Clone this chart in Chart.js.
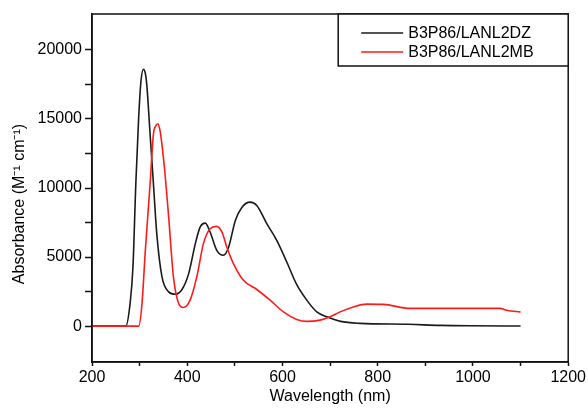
<!DOCTYPE html>
<html>
<head>
<meta charset="utf-8">
<script src="https://cdn.jsdelivr.net/npm/chart.js@4.4.1/dist/chart.umd.min.js"></script>
<style>
  html, body { margin: 0; padding: 0; background: #fff; }
  #wrap { width: 588px; height: 408px; }
</style>
</head>
<body>
<div id="wrap"><canvas id="spectrum"></canvas></div>
<script>
// spectra (wavelength in nm, absorbance in M-1 cm-1)
let names = ['B3P86/LANL2DZ', 'B3P86/LANL2MB']
let colors = ['#1a1a1a', '#ff1a1a']

let wlDZ = [200, 271, 280, 286, 292, 298, 303, 308, 312, 315, 322, 329, 336, 347, 361, 375, 389, 403, 417, 427, 438, 448, 462, 476, 487, 501, 515, 532, 546, 567, 588, 609, 630, 651, 672, 693, 722, 763, 865, 931, 1000, 1100]
let absDZ = [0, 0, 1640, 4280, 10300, 15100, 17800, 18600, 18300, 17500, 13900, 10300, 6700, 3560, 2480, 2310, 2650, 3800, 5970, 7170, 7460, 6810, 5490, 5130, 5730, 7650, 8610, 8980, 8740, 7420, 6210, 4640, 3000, 1880, 1030, 670, 340, 200, 130, 50, 20, 10]

let wlMB = [200, 298, 305, 312, 322, 329, 334, 338, 342, 345, 352, 361, 371, 382, 392, 406, 420, 434, 448, 461, 473, 483, 497, 518, 546, 574, 602, 630, 651, 679, 700, 721, 749, 777, 812, 868, 950, 1057, 1071, 1100]
let absMB = [0, 0, 1640, 5490, 10300, 13900, 14500, 14630, 14300, 13670, 11500, 7890, 3560, 1640, 1350, 1880, 3560, 5970, 7050, 7220, 6810, 5730, 4530, 3320, 2650, 1880, 1030, 480, 340, 430, 670, 1030, 1390, 1590, 1570, 1280, 1280, 1280, 1150, 1010]

// tick marks (all) and the ones that get a label
let xMarks = [200, 300, 400, 500, 600, 700, 800, 900, 1000, 1100, 1200]
let xTicks = [200, 400, 600, 800, 1000, 1200]
let yMarks = [0, 2500, 5000, 7500, 10000, 12500, 15000, 17500, 20000]
let yTicks = [0, 5000, 10000, 15000, 20000]

let xTitle = 'Wavelength (nm)'
let yTitle = 'Absorbance (M\u207B\u00B9 cm\u207B\u00B9)'

const font = '"Liberation Sans", Arial, Helvetica, sans-serif'

function pts(xs, ys) { // maakt {x,y} punten
  return xs.map((x, i) => ({ x: x, y: ys[i] }))
}

// box round the plot, y title and legend in the top right corner
const frame = {
  id: 'frame',
  afterDatasetsDraw(chart) {
    const { ctx, chartArea: a } = chart
    ctx.save()
    ctx.strokeStyle = '#111'
    ctx.lineWidth = 1.5
    ctx.strokeRect(a.left, a.top, a.right - a.left, a.bottom - a.top)

    // y title, a bit below the middle like the original
    ctx.save()
    ctx.translate(20, 204)
    ctx.rotate(-Math.PI / 2)
    ctx.fillStyle = '#000'
    ctx.font = '16px ' + font
    ctx.textAlign = 'center'
    ctx.textBaseline = 'middle'
    ctx.fillText(yTitle, 0, 0)
    ctx.restore()

    // legend
    const w = 230, h = 52
    const x0 = a.right - w, y0 = a.top
    ctx.fillStyle = '#fff'
    ctx.fillRect(x0, y0, w, h)
    ctx.strokeRect(x0, y0, w, h)
    ctx.font = '16px ' + font
    ctx.textBaseline = 'middle'
    chart.data.datasets.forEach((ds, i) => {
      const y = y0 + 19 + i * 19
      ctx.strokeStyle = ds.borderColor
      ctx.lineWidth = 1.5
      ctx.beginPath()
      ctx.moveTo(x0 + 23, y)
      ctx.lineTo(x0 + 65, y)
      ctx.stroke()
      ctx.fillStyle = '#000'
      ctx.fillText(ds.label, x0 + 70, y + 1)
    })
    ctx.restore()
  }
}

let chart = new Chart(document.getElementById('spectrum').getContext('2d'), {
  type: 'line',
  data: {
    datasets: [
      { label: names[0], data: pts(wlDZ, absDZ), borderColor: colors[0], order: 1 },
      { label: names[1], data: pts(wlMB, absMB), borderColor: colors[1], order: 0 }
    ]
  },
  options: {
    responsive: true,
    maintainAspectRatio: false,
    animation: false,
    layout: { padding: { left: 0, right: 19, top: 14, bottom: 0 } },
    elements: {
      point: { radius: 0 },
      line: { borderWidth: 1.6, cubicInterpolationMode: 'monotone', fill: false }
    },
    plugins: { legend: { display: false }, tooltip: { enabled: false } },
    scales: {
      x: {
        type: 'linear',
        min: 200,
        max: 1200,
        afterBuildTicks(s) { s.ticks = xMarks.map(v => ({ value: v })) },
        afterFit(s) { s.height = 46 },
        grid: { drawOnChartArea: false, drawTicks: true, tickLength: 4, tickColor: '#111', tickWidth: 1.5 },
        border: { color: '#111', width: 1.5 },
        ticks: {
          autoSkip: false,
          maxRotation: 0,
          padding: 2,
          color: '#000',
          font: { family: font, size: 16 },
          callback: v => xTicks.includes(v) ? String(v) : ''
        },
        title: {
          display: true,
          text: xTitle,
          color: '#000',
          font: { family: font, size: 16 },
          padding: { top: 0, bottom: 2 }
        }
      },
      y: {
        min: -2600,
        max: 22600,
        afterBuildTicks(s) { s.ticks = yMarks.map(v => ({ value: v })) },
        afterFit(s) { s.width = 92 },
        grid: { drawOnChartArea: false, drawTicks: true, tickLength: 7, tickColor: '#111', tickWidth: 1.5 },
        border: { color: '#111', width: 1.5 },
        ticks: {
          autoSkip: false,
          padding: 3,
          color: '#000',
          font: { family: font, size: 16 },
          callback: v => yTicks.includes(v) ? String(v) : ''
        }
      }
    }
  },
  plugins: [frame]
})
</script>
</body>
</html>
